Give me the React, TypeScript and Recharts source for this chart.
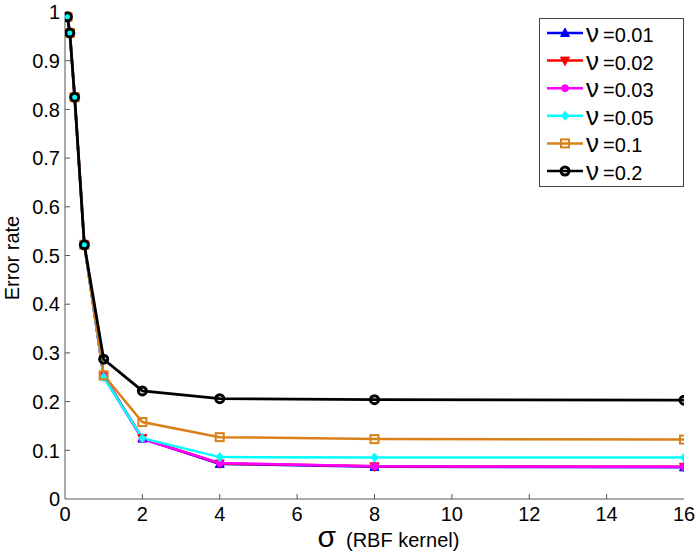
import React from 'react';
import { LineChart, Line, XAxis, YAxis, Legend } from 'recharts';

const sigma = [0.0625, 0.125, 0.25, 0.5, 1, 2, 4, 8, 16];
const nu001 = [0.99, 0.957, 0.825, 0.522, 0.252, 0.124, 0.072, 0.066, 0.065];
const nu002 = [0.99, 0.957, 0.825, 0.522, 0.252, 0.125, 0.073, 0.067, 0.066];
const nu003 = [0.99, 0.957, 0.825, 0.522, 0.252, 0.123, 0.074, 0.067, 0.066];
const nu005 = [0.99, 0.957, 0.825, 0.522, 0.25, 0.125, 0.086, 0.085, 0.085];
const nu01 = [0.99, 0.957, 0.825, 0.522, 0.254, 0.158, 0.127, 0.123, 0.122];
const nu02 = [0.99, 0.957, 0.825, 0.522, 0.287, 0.222, 0.206, 0.204, 0.203];

const xTicks = [0, 2, 4, 6, 8, 10, 12, 14, 16];
const yTicks = [0, 0.1, 0.2, 0.3, 0.4, 0.5, 0.6, 0.7, 0.8, 0.9, 1];
const legendLabels = ['=0.01', '=0.02', '=0.03', '=0.05', '=0.1', '=0.2'];

const data = sigma.map((s, i) => ({
  sigma: s,
  a: nu001[i],
  b: nu002[i],
  c: nu003[i],
  d: nu005[i],
  e: nu01[i],
  f: nu02[i],
}));

type Shape = 'triUp' | 'triDown' | 'dot' | 'diamond' | 'square' | 'circle';

const series: { key: string; color: string; shape: Shape; w: number }[] = [
  { key: 'a', color: '#0000ff', shape: 'triUp', w: 2.5 },
  { key: 'b', color: '#ff0000', shape: 'triDown', w: 2.5 },
  { key: 'c', color: '#ff00ff', shape: 'dot', w: 2.5 },
  { key: 'd', color: '#00ffff', shape: 'diamond', w: 2.5 },
  { key: 'e', color: '#d98019', shape: 'square', w: 2.5 },
  { key: 'f', color: '#000000', shape: 'circle', w: 2.8 },
];

const FONT = '"Liberation Sans", Arial, Helvetica, sans-serif';
const AXIS = '#555';
const TICK_LEN = 5;

function marker(shape: Shape, color: string, cx: number, cy: number, key?: string) {
  switch (shape) {
    case 'triUp':
      return <polygon key={key} points={`${cx},${cy - 5} ${cx - 4.5},${cy + 3.5} ${cx + 4.5},${cy + 3.5}`} fill={color} stroke={color} strokeWidth={1} />;
    case 'triDown':
      return <polygon key={key} points={`${cx},${cy + 5} ${cx - 4.5},${cy - 3.5} ${cx + 4.5},${cy - 3.5}`} fill={color} stroke={color} strokeWidth={1} />;
    case 'dot':
      return <circle key={key} cx={cx} cy={cy} r={3.5} fill={color} stroke={color} />;
    case 'diamond':
      return <polygon key={key} points={`${cx},${cy - 4.5} ${cx + 3.5},${cy} ${cx},${cy + 4.5} ${cx - 3.5},${cy}`} fill={color} stroke={color} strokeWidth={1} />;
    case 'square':
      return <rect key={key} x={cx - 4} y={cy - 4} width={8} height={8} fill="none" stroke={color} strokeWidth={2} />;
    case 'circle':
    default:
      return <circle key={key} cx={cx} cy={cy} r={4} fill="none" stroke={color} strokeWidth={3} />;
  }
}

const fmtY = (v: number) => (v === 0 ? '0' : v === 1 ? '1' : v.toFixed(1));

const BottomTick = (p: any) => {
  const v = p.payload?.value;
  const axisY = p.y - 8;
  const inner = v === 0 || v === 16;
  return (
    <g>
      {!inner && <line x1={p.x} x2={p.x} y1={axisY} y2={axisY - TICK_LEN} stroke={AXIS} strokeWidth={1} />}
      <text x={p.x} y={p.y} dy="0.72em" textAnchor="middle" fontFamily={FONT} fontSize={20} fill="#000">{v}</text>
    </g>
  );
};

const LeftTick = (p: any) => {
  const v = p.payload?.value;
  const axisX = p.x + 5;
  const inner = v === 0 || v === 1;
  return (
    <g>
      {!inner && <line x1={axisX} x2={axisX + TICK_LEN} y1={p.y} y2={p.y} stroke={AXIS} strokeWidth={1} />}
      <text x={p.x} y={p.y} dy="0.36em" textAnchor="end" fontFamily={FONT} fontSize={20} fill="#000">{fmtY(v)}</text>
    </g>
  );
};

const TopTick = (p: any) => {
  const v = p.payload?.value;
  if (v === 0 || v === 16) return <g />;
  return <line x1={p.x} x2={p.x} y1={p.y} y2={p.y + TICK_LEN} stroke={AXIS} strokeWidth={1} />;
};

const RightTick = (p: any) => {
  const v = p.payload?.value;
  if (v === 0 || v === 1) return <g />;
  return <line x1={p.x} x2={p.x - TICK_LEN} y1={p.y} y2={p.y} stroke={AXIS} strokeWidth={1} />;
};

const LegendBox = () => (
  <div style={{ width: 145, height: 169, border: '1px solid #444', background: '#fff', boxSizing: 'border-box' }}>
    <svg width={143} height={167} style={{ display: 'block' }}>
      {series.map((s, i) => {
        const y = 14 + i * 27.6;
        return (
          <g key={s.key}>
            <line x1={7} x2={43} y1={y} y2={y} stroke={s.color} strokeWidth={2.5} />
            {marker(s.shape, s.color, 25, y)}
            <text x={46} y={y} dominantBaseline="central" fontFamily={FONT} fontSize={26} fill="#000">ν</text>
            <text x={63} y={y + 2} dominantBaseline="central" fontFamily={FONT} fontSize={20} fill="#000">{legendLabels[i]}</text>
          </g>
        );
      })}
    </svg>
  </div>
);

const XLabel = (props: any) => {
  const vb = props.viewBox || { x: 65, y: 499, width: 619, height: 58 };
  const x0 = vb.x + vb.width / 2 - 57;
  return (
    <text x={x0} y={547} fontFamily={FONT} fill="#000">
      <tspan fontSize={30}>σ</tspan>
      <tspan fontSize={20} dx={10}>(RBF kernel)</tspan>
    </text>
  );
};

const YLabel = () => (
  <text x={19} y={258} transform="rotate(-90 19 258)" textAnchor="middle" fontFamily={FONT} fontSize={20} fill="#000">
    Error rate
  </text>
);

export default function App() {
  return (
    <div style={{ position: 'absolute', left: 0, top: 0, background: '#fff' }}>
      <LineChart width={698} height={557} data={data} margin={{ top: 12, right: 14, bottom: 0, left: 0 }}>
        <XAxis
          dataKey="sigma"
          type="number"
          domain={[0, 16]}
          ticks={xTicks}
          height={58}
          tickSize={0}
          tickMargin={8}
          tickLine={false}
          stroke={AXIS}
          tick={<BottomTick />}
          interval={0}
          allowDataOverflow
          label={<XLabel />}
        />
        <XAxis
          xAxisId="top"
          orientation="top"
          type="number"
          domain={[0, 16]}
          ticks={xTicks}
          height={0}
          tickSize={0}
          tickMargin={0}
          tickLine={false}
          interval={0}
          tick={<TopTick />}
          stroke={AXIS}
        />
        <YAxis
          type="number"
          domain={[0, 1]}
          ticks={yTicks}
          width={65}
          tickSize={0}
          tickMargin={5}
          tickLine={false}
          interval={0}
          stroke={AXIS}
          tick={<LeftTick />}
          label={<YLabel />}
        />
        <YAxis
          yAxisId="right"
          orientation="right"
          type="number"
          domain={[0, 1]}
          ticks={yTicks}
          width={0}
          tickSize={0}
          tickMargin={0}
          tickLine={false}
          interval={0}
          tick={<RightTick />}
          stroke={AXIS}
        />
        {series.map((s) => (
          <Line
            key={s.key}
            dataKey={s.key}
            type="linear"
            stroke={s.color}
            strokeWidth={s.w}
            isAnimationActive={false}
            dot={(p: any) => marker(s.shape, s.color, p.cx, p.cy, `${s.key}-${p.index}`)}
            activeDot={false}
          />
        ))}
        <Legend
          layout="horizontal"
          verticalAlign="middle"
          align="center"
          content={<LegendBox />}
          wrapperStyle={{ position: 'absolute', left: 539, top: 18, width: 145, height: 169 }}
        />
      </LineChart>
    </div>
  );
}
